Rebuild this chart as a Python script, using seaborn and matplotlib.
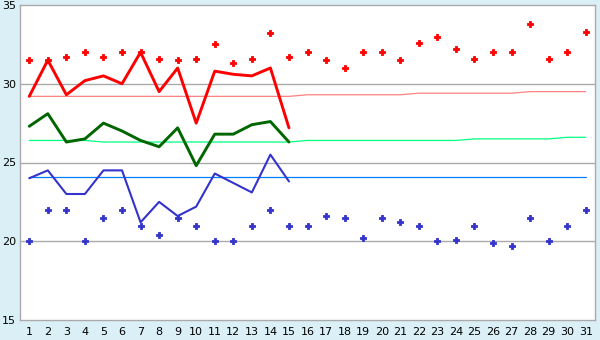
import numpy as np
import pandas as pd
import matplotlib
matplotlib.use("Agg")
import matplotlib.pyplot as plt
import seaborn as sns

days = list(range(1, 32))

high_line = [29.2, 31.5, 29.3, 30.2, 30.5, 30.0, 32.0, 29.5, 31.0, 27.5,
             30.8, 30.6, 30.5, 31.0, 27.2]
mean_line = [27.3, 28.1, 26.3, 26.5, 27.5, 27.0, 26.4, 26.0, 27.2, 24.8,
             26.8, 26.8, 27.4, 27.6, 26.3]
low_line = [24.0, 24.5, 23.0, 23.0, 24.5, 24.5, 21.2, 22.5, 21.6, 22.2,
            24.3, 23.7, 23.1, 25.5, 23.8]

record_high = [31.5, 31.5, 31.7, 32.0, 31.7, 32.0, 32.0, 31.6, 31.5, 31.6,
               32.5, 31.3, 31.6, 33.2, 31.7, 32.0, 31.5, 31.0, 32.0, 32.0,
               31.5, 32.6, 33.0, 32.2, 31.6, 32.0, 32.0, 33.8, 31.6, 32.0, 33.3]
record_low = [20.0, 22.0, 22.0, 20.0, 21.5, 22.0, 21.0, 20.4, 21.5, 21.0,
              20.0, 20.0, 21.0, 22.0, 21.0, 21.0, 21.6, 21.5, 20.2, 21.5,
              21.2, 21.0, 20.0, 20.1, 21.0, 19.9, 19.7, 21.5, 20.0, 21.0, 22.0]

normal_high = [29.2] * 15 + [29.3] * 6 + [29.4] * 6 + [29.5] * 4
normal_mean = [26.4] * 4 + [26.3] * 11 + [26.4] * 9 + [26.5] * 5 + [26.6] * 2
normal_low = [24.1] * 31

y_ticks = [15, 20, 25, 30, 35]

sns.set_style("white")
plt.rcParams['font.family'] = ['DejaVu Sans']

bg = "#daeff6"
fig = plt.figure(figsize=(6, 3.4), dpi=100, facecolor=bg)
ax = fig.add_axes([20 / 600, 20 / 340, 575 / 600, 315 / 340])
ax.set_facecolor("white")

for y in [20, 25, 30]:
    ax.axhline(y, color="#aaaaaa", lw=1.0, zorder=0)

d = days
sns.lineplot(x=d, y=normal_high, color="#ff8080", lw=0.9, ax=ax, zorder=2)
sns.lineplot(x=d, y=normal_mean, color="#00ff80", lw=0.9, ax=ax, zorder=2)
sns.lineplot(x=d, y=normal_low, color="#0080ff", lw=0.9, ax=ax, zorder=2)

sns.lineplot(x=d[:15], y=high_line, color="#ff0000", lw=2.1, ax=ax, zorder=3)
sns.lineplot(x=d[:15], y=mean_line, color="#006600", lw=2.1, ax=ax, zorder=3)
sns.lineplot(x=d[:15], y=low_line, color="#3333cc", lw=1.5, ax=ax, zorder=3)

sns.scatterplot(x=d, y=record_high, color="#ff0000", marker="P", s=14,
                linewidth=0.6, edgecolor="#ff0000", ax=ax, zorder=4)
sns.scatterplot(x=d, y=record_low, color="#3333cc", marker="P", s=14,
                linewidth=0.6, edgecolor="#3333cc", ax=ax, zorder=4)

ax.set_xlim(0.5, 31.5)
ax.set_ylim(15, 35)
ax.set_xticks(days)
ax.set_xticklabels([str(x) for x in days])
ax.set_yticks(y_ticks)
ax.set_yticklabels([str(v) for v in y_ticks])
for s in ax.spines.values():
    s.set_color("#aaaaaa")
    s.set_linewidth(1.0)
ax.tick_params(axis="both", which="both", direction="out", color="#333333",
               labelsize=8, labelcolor="black", pad=1)
ax.tick_params(axis="x", length=4, width=0.8)
ax.tick_params(axis="y", length=2, width=0.8)
ax.set_xlabel("")
ax.set_ylabel("")

fig.savefig("out.png", dpi=100, facecolor=bg)
